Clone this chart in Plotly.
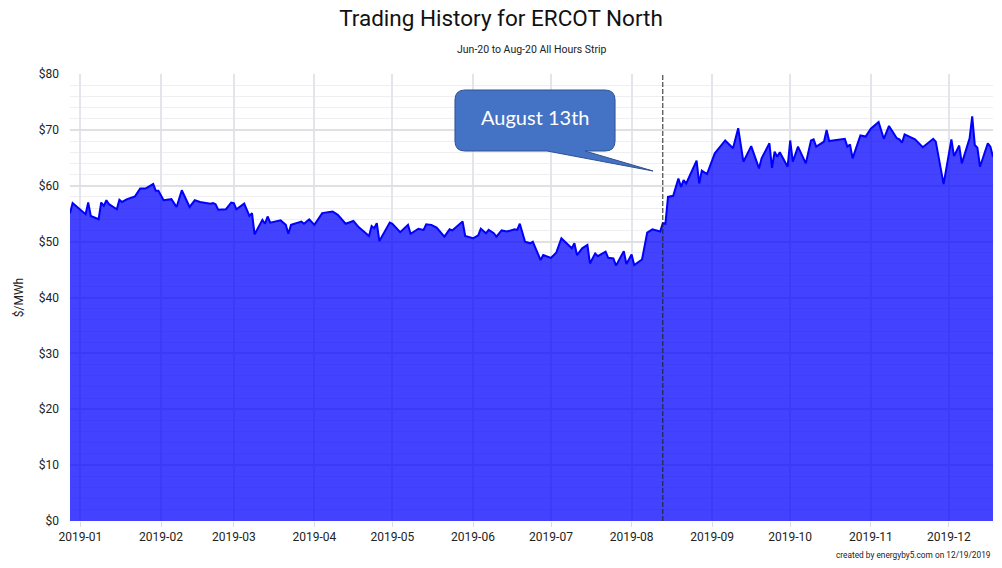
import plotly.graph_objects as go

dates = [
"2018-12-28","2018-12-29","2019-01-03","2019-01-04","2019-01-05","2019-01-08","2019-01-09","2019-01-10","2019-01-11","2019-01-12",
"2019-01-15","2019-01-16","2019-01-17","2019-01-19","2019-01-22","2019-01-24","2019-01-26","2019-01-29","2019-01-30","2019-01-31",
"2019-02-02","2019-02-05","2019-02-07","2019-02-09","2019-02-12","2019-02-14","2019-02-16","2019-02-20","2019-02-21","2019-02-22",
"2019-02-23","2019-02-26","2019-02-28","2019-03-01","2019-03-02","2019-03-05","2019-03-07","2019-03-08","2019-03-09","2019-03-12",
"2019-03-13","2019-03-14","2019-03-15","2019-03-19","2019-03-21","2019-03-22","2019-03-23","2019-03-26","2019-03-27","2019-03-28",
"2019-03-30","2019-04-01","2019-04-04","2019-04-08","2019-04-10","2019-04-13","2019-04-16","2019-04-18","2019-04-22","2019-04-23",
"2019-04-24","2019-04-25","2019-04-26","2019-04-30","2019-05-01","2019-05-04","2019-05-07","2019-05-08","2019-05-11","2019-05-13",
"2019-05-14","2019-05-16","2019-05-18","2019-05-21","2019-05-23","2019-05-24","2019-05-28","2019-05-29","2019-06-01","2019-06-03",
"2019-06-04","2019-06-06","2019-06-07","2019-06-09","2019-06-10","2019-06-12","2019-06-14","2019-06-17","2019-06-18","2019-06-19",
"2019-06-21","2019-06-23","2019-06-24","2019-06-27","2019-06-28","2019-07-01","2019-07-03","2019-07-05","2019-07-09","2019-07-10",
"2019-07-11","2019-07-13","2019-07-15","2019-07-16","2019-07-18","2019-07-19","2019-07-22","2019-07-23","2019-07-25","2019-07-26",
"2019-07-29","2019-07-30","2019-08-01","2019-08-02","2019-08-05","2019-08-07","2019-08-09","2019-08-12","2019-08-13","2019-08-14",
"2019-08-15","2019-08-17","2019-08-19","2019-08-20","2019-08-21","2019-08-22","2019-08-26","2019-08-27","2019-08-28","2019-08-30",
"2019-09-02","2019-09-06","2019-09-09","2019-09-11","2019-09-13","2019-09-16","2019-09-19","2019-09-20","2019-09-23","2019-09-24",
"2019-09-25","2019-09-26","2019-09-27","2019-09-30","2019-10-01","2019-10-02","2019-10-04","2019-10-07","2019-10-09","2019-10-10",
"2019-10-11","2019-10-14","2019-10-15","2019-10-16","2019-10-22","2019-10-23","2019-10-24","2019-10-25","2019-10-28","2019-10-30",
"2019-11-01","2019-11-04","2019-11-06","2019-11-08","2019-11-11","2019-11-12","2019-11-13","2019-11-14","2019-11-16","2019-11-18",
"2019-11-21","2019-11-25","2019-11-26","2019-11-29","2019-12-02","2019-12-03","2019-12-05","2019-12-06","2019-12-09","2019-12-10",
"2019-12-11","2019-12-12","2019-12-13","2019-12-16","2019-12-17","2019-12-18"]

prices = [
55.1,56.9,54.9,57.0,54.6,54.0,57.0,56.4,57.4,56.7,
55.8,57.5,57.1,57.6,58.1,59.5,59.5,60.3,59.1,59.1,
57.4,57.6,56.2,59.2,56.2,57.4,57.1,56.8,56.9,56.7,
55.7,55.8,57.0,56.9,55.8,56.8,54.6,55.1,51.3,53.9,
53.2,54.5,53.4,53.8,53.0,51.4,53.0,53.4,53.6,53.2,
54.0,53.0,55.1,55.4,54.8,53.2,53.7,52.6,51.0,52.8,
52.4,53.3,50.1,53.4,53.2,51.7,53.0,51.4,52.3,52.1,
53.1,53.0,52.5,50.9,52.2,52.0,53.6,51.0,50.6,51.1,
52.3,51.5,52.1,51.5,50.9,52.0,51.8,52.2,52.1,53.2,
50.0,49.7,50.0,46.7,47.6,47.1,48.0,50.6,48.8,49.7,
47.6,48.8,49.4,46.1,47.9,47.4,48.2,47.1,47.0,45.7,
48.3,46.0,47.7,45.8,46.8,51.6,52.2,51.8,53.3,53.2,
58.0,58.2,61.3,59.8,61.0,60.4,64.5,60.4,62.7,62.1,
65.8,68.1,66.7,70.3,64.3,67.1,63.1,64.9,67.6,63.2,
66.1,65.2,66.0,63.4,68.1,64.3,67.0,64.0,68.1,68.3,
67.0,67.9,70.0,68.0,68.4,67.0,67.4,64.9,69.0,68.8,
70.2,71.4,68.4,70.7,68.5,68.3,67.7,69.2,68.7,68.3,
66.9,68.4,67.9,60.3,68.3,65.3,67.2,64.0,68.5,72.4,
67.3,66.8,63.4,67.6,67.0,65.2]

event_date = "2019-08-13"
event_label = "August 13th"
title_text = "Trading History for ERCOT North"
subtitle_text = "Jun-20 to Aug-20 All Hours Strip"
credit_text = "created by energyby5.com on 12/19/2019"

fig = go.Figure()
fig.add_trace(go.Scatter(
    x=dates, y=prices, mode="lines",
    line=dict(color="#0000FF", width=2),
    fill="tozeroy", fillcolor="rgba(0,0,255,0.74)",
    hoverinfo="x+y",
))

fig.update_layout(
    width=1002, height=568,
    margin=dict(l=70, r=9, t=74, b=47),
    paper_bgcolor="white", plot_bgcolor="white",
    font=dict(family="Roboto", size=12, color="#222222"),
    showlegend=False,
    title=dict(text=title_text, x=0.5, xanchor="center", y=1 - 18 / 568, yanchor="middle",
               font=dict(family="Roboto", size=22.5, color="#111111")),
    xaxis=dict(
        type="date", range=[dates[0], dates[-1]],
        tick0="2019-01-01", dtick="M1", tickformat="%Y-%m",
        showgrid=True, gridcolor="#E2E5EA", gridwidth=1.5,
        ticks="outside", ticklen=5, tickcolor="#DDDDDD",
        showline=False, zeroline=False,
        tickfont=dict(size=12, color="#222222"),
    ),
    yaxis=dict(
        range=[0, 80], dtick=10, tickprefix="$",
        showgrid=True, gridcolor="#E0E0E4", gridwidth=2,
        minor=dict(dtick=2, showgrid=True, gridcolor="#EFEFF1", gridwidth=1),
        zeroline=False, showline=False,
        ticklabelstandoff=10,
        tickfont=dict(size=12, color="#222222"),
        title=dict(text="$/MWh", standoff=12, font=dict(size=12, color="#222222")),
    ),
)

# Event marker line
fig.add_shape(type="line", xref="x", yref="paper", x0=event_date, x1=event_date, y0=0, y1=1,
              line=dict(color="#222222", width=1, dash="5px,2px"), layer="above")

# Callout bubble
L, R, T, B = 0.4171, 0.5905, 0.9642, 0.8277
rx, ry = 0.0108, 0.0224
tl, tr, tipx, tipy = 0.5168, 0.5580, 0.6316, 0.7830
path = (f"M {L+rx},{T} L {R-rx},{T} Q {R},{T} {R},{T-ry} L {R},{B+ry} Q {R},{B} {R-rx},{B} "
        f"L {tr},{B} L {tipx},{tipy} L {tl},{B} L {L+rx},{B} Q {L},{B} {L},{B+ry} "
        f"L {L},{T-ry} Q {L},{T} {L+rx},{T} Z")
fig.add_shape(type="path", xref="paper", yref="paper", path=path,
              fillcolor="#4472C4", line=dict(color="#2F528F", width=1), layer="above")
fig.add_annotation(xref="paper", yref="paper", x=(L + R) / 2, y=0.9038, text=event_label,
                   showarrow=False, font=dict(family="Lato", size=20, color="white"),
                   xanchor="center", yanchor="middle")

fig.add_annotation(xref="paper", yref="paper", x=0.5, y=(521 - 49) / 447, text=subtitle_text,
                   showarrow=False, font=dict(size=10.5, color="#222222"),
                   xanchor="center", yanchor="middle")
fig.add_annotation(xref="paper", yref="paper", x=1.0, y=(521 - 555) / 447, text=credit_text,
                   showarrow=False, font=dict(size=8.3, color="#222222"),
                   xanchor="right", yanchor="middle")

fig.write_html("out.html", config={"displayModeBar": False},
               post_script="document.body.style.margin='0';")
